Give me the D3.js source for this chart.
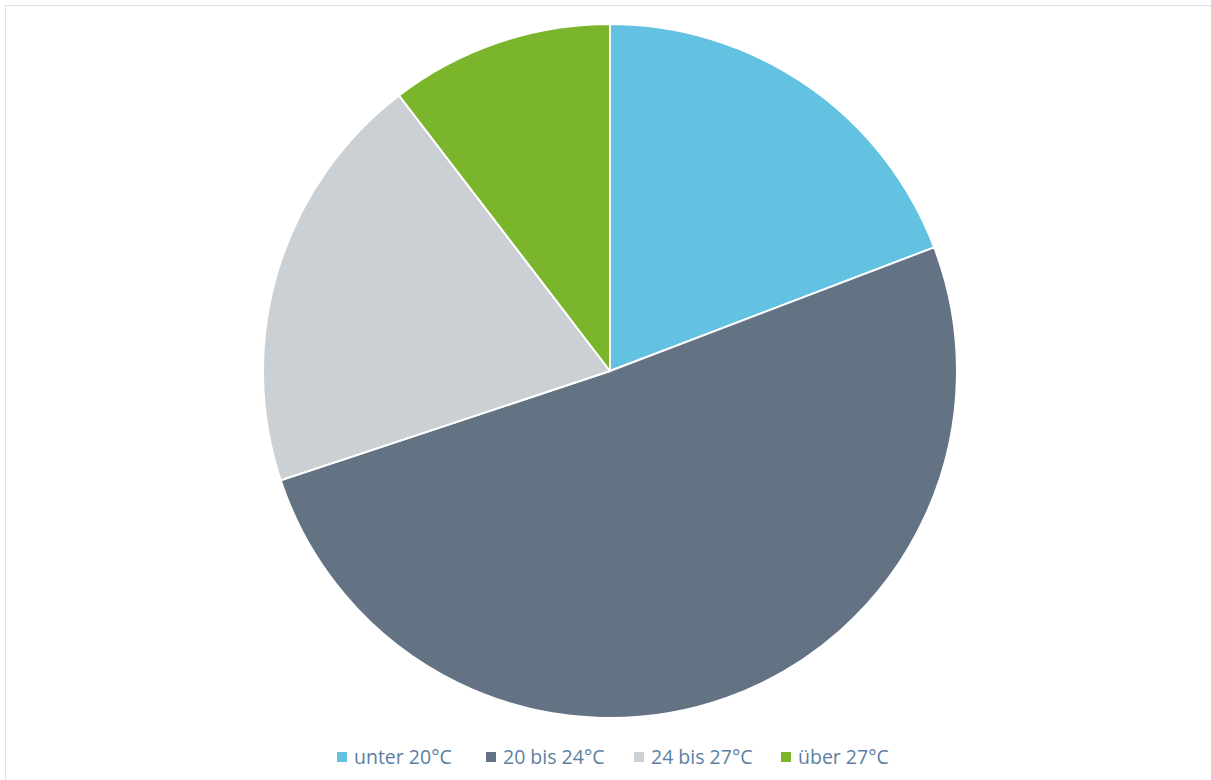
<!DOCTYPE html>
<html>
<head>
<meta charset="utf-8">
<script src="https://cdn.jsdelivr.net/npm/d3@7"></script>
<style>
  html, body { margin: 0; padding: 0; background: #ffffff; }
  svg { display: block; }
</style>
</head>
<body>
<svg id="chart" width="1211" height="780"></svg>
<script>
// Share of readings per temperature band (percent)
const categories = ["unter 20°C", "20 bis 24°C", "24 bis 27°C", "über 27°C"];
const values = [19.2, 50.7, 19.7, 10.4];
const colors = ["#63c1e1", "#637384", "#cbd0d5", "#7ab52c"];

const svg = d3.select("#chart");
const W = 1211, H = 780;

// Chart area frame
svg.append("rect")
  .attr("x", 5.5).attr("y", 5.5)
  .attr("width", W + 10).attr("height", H + 10)
  .attr("fill", "none")
  .attr("stroke", "#d9e3ec")
  .attr("stroke-width", 1);

const cx = 610, cy = 371, r = 347;

const pie = d3.pie().sort(null).value(d => d.value);
const arc = d3.arc().innerRadius(0).outerRadius(r);
const data = categories.map((c, i) => ({ name: c, value: values[i] }));
const color = d3.scaleOrdinal().domain(categories).range(colors);

svg.append("g")
  .attr("transform", `translate(${cx},${cy})`)
  .selectAll("path")
  .data(pie(data))
  .join("path")
  .attr("d", arc)
  .attr("fill", d => color(d.data.name))
  .attr("stroke", "#ffffff")
  .attr("stroke-width", 2)
  .attr("stroke-linejoin", "round");

// Legend
const legendX = [337, 486, 634, 781];
const legend = svg.append("g");
const items = legend.selectAll("g")
  .data(categories)
  .join("g")
  .attr("transform", (d, i) => `translate(${legendX[i]},757)`);
items.append("rect")
  .attr("x", 0).attr("y", -5)
  .attr("width", 10).attr("height", 10)
  .attr("fill", d => color(d));
items.append("text")
  .attr("x", 17).attr("y", 0)
  .attr("dy", "0.35em")
  .attr("font-family", "'Open Sans', sans-serif")
  .attr("font-size", 19.5)
  .attr("fill", "#5b7fa3")
  .text(d => d);
</script>
</body>
</html>
